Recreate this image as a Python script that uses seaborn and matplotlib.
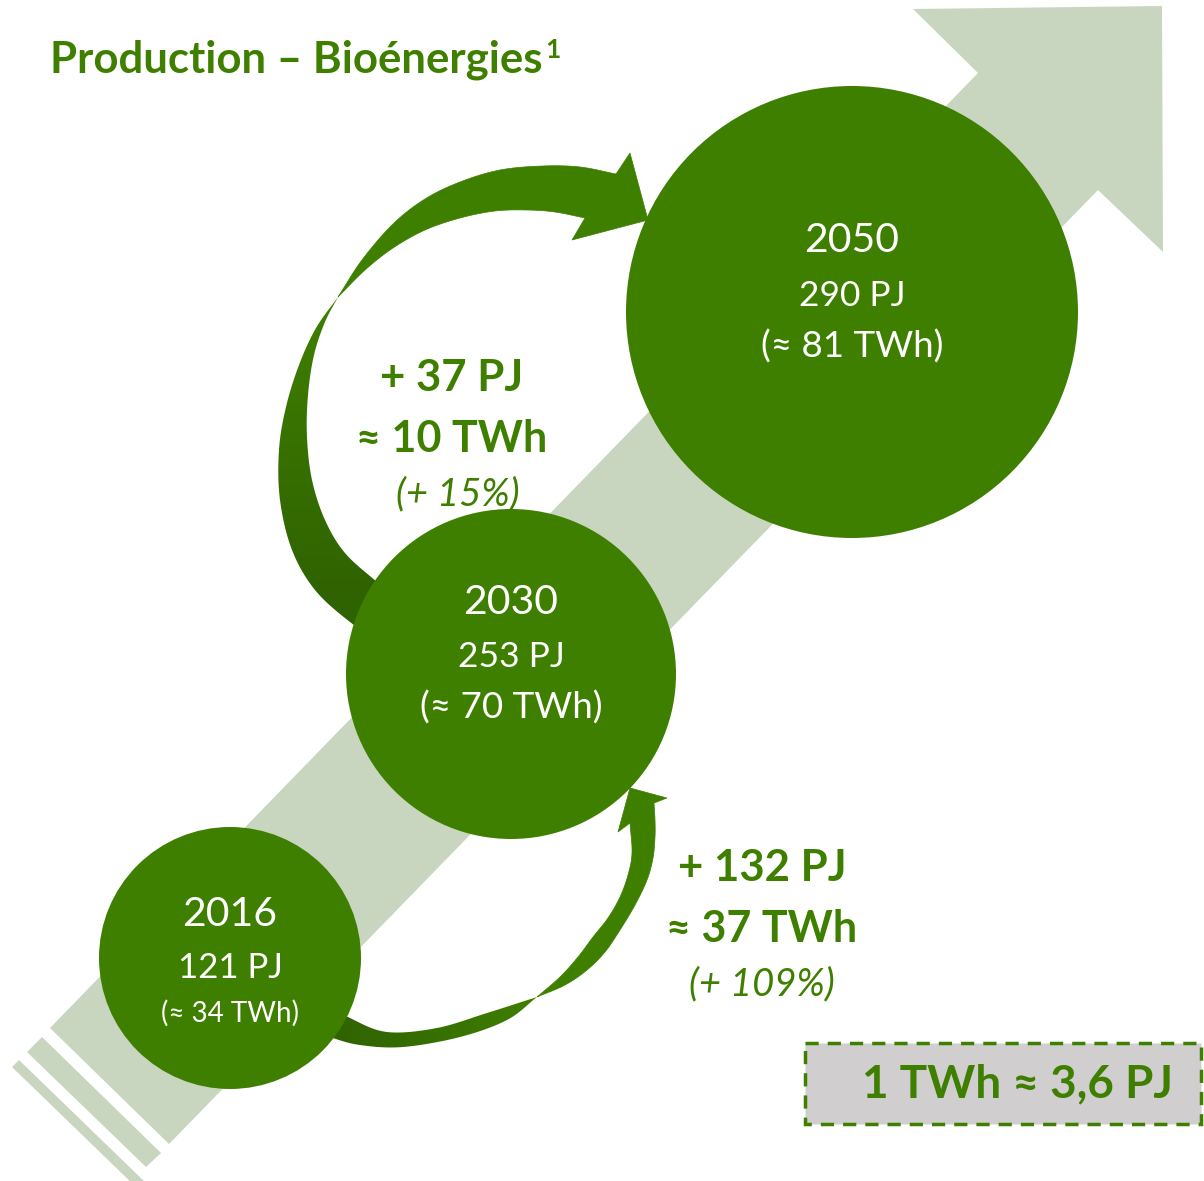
import numpy as np
import pandas as pd
import matplotlib
matplotlib.use("Agg")
import matplotlib.pyplot as plt
import seaborn as sns
from matplotlib.patches import Polygon, Rectangle

# ---------------- data ----------------
years = ["2016", "2030", "2050"]
prod_pj = [121, 253, 290]
prod_twh = [34, 70, 81]
delta_pj = [132, 37]          # 2016->2030, 2030->2050
delta_twh = [37, 10]
delta_pct = [109, 15]
title_text = "Production – Bioénergies"
title_note = "1"
conversion_text = "1 TWh ≈ 3,6 PJ"

# ---------------- layout (pixels) ----------------
circle_x = [230, 511, 852]
circle_y = [958, 674, 312]
circle_r = [131, 165, 226]

GREEN = "#3F7F00"
DARK = "#2F6200"
LIGHT = "#C9D6BF"
BOXGRAY = "#D0CECE"

sns.set_theme(style="white")
plt.rcParams["font.family"] = ["Lato", "DejaVu Sans"]

W, H = 1204, 1181
fig = plt.figure(figsize=(W / 100, H / 100), dpi=100)
ax = fig.add_axes([0, 0, 1, 1])
ax.set_xlim(0, W)
ax.set_ylim(H, 0)
ax.axis("off")


def cr(pts, n=14):
    P = np.array(pts, float)
    P = np.vstack([2 * P[0] - P[1], P, 2 * P[-1] - P[-2]])
    out = []
    t = np.linspace(0, 1, n, endpoint=False)[:, None]
    for i in range(1, len(P) - 2):
        p0, p1, p2, p3 = P[i - 1], P[i], P[i + 1], P[i + 2]
        out.append(0.5 * ((2 * p1) + (-p0 + p2) * t + (2 * p0 - 5 * p1 + 4 * p2 - p3) * t ** 2
                          + (-p0 + 3 * p1 - 3 * p2 + p3) * t ** 3))
    out.append(P[-2][None])
    return np.vstack(out)


# ---------------- big light arrow ----------------
big = [(50, 1028), (978, 73), (913, 9), (1162, 6), (1163, 252), (1098, 190), (169, 1144)]
ax.add_patch(Polygon(big, closed=True, fc=LIGHT, ec="none", zorder=1))
ax.add_patch(Polygon([(42, 1037), (161, 1153), (146, 1167), (27, 1052)], closed=True,
                     fc=LIGHT, ec="none", zorder=1))
ax.add_patch(Polygon([(19, 1060), (145, 1182), (138, 1189), (12, 1067)], closed=True,
                     fc=LIGHT, ec="none", zorder=1))


def gradient_fill(poly_pts, c_from, c_to, p_from, p_to, z):
    poly = Polygon(poly_pts, closed=True, fc="none", ec="none")
    ax.add_patch(poly)
    pts = np.array(poly_pts)
    x0, y0 = pts.min(axis=0) - 2
    x1, y1 = pts.max(axis=0) + 2
    nx, ny = int(x1 - x0) + 1, int(y1 - y0) + 1
    xs = np.linspace(x0, x1, nx)
    ys = np.linspace(y0, y1, ny)
    X, Y = np.meshgrid(xs, ys)
    d = np.array(p_to, float) - np.array(p_from, float)
    tt = ((X - p_from[0]) * d[0] + (Y - p_from[1]) * d[1]) / (d @ d)
    tt = np.clip(tt, 0, 1)[..., None]
    ca = np.array(matplotlib.colors.to_rgb(c_from))
    cb = np.array(matplotlib.colors.to_rgb(c_to))
    img = ca * (1 - tt) + cb * tt
    im = ax.imshow(img, extent=(x0, x1, y1, y0), origin="upper", aspect="auto",
                   interpolation="bilinear", zorder=z)
    im.set_clip_path(poly)


# ---------------- upper curved arrow (2030 -> 2050) ----------------
ua_out_up = [(338, 297), (362, 260), (393, 224), (425, 199), (460, 182), (500, 170),
             (543, 166), (580, 167), (616, 174)]
ua_head = [(630, 153), (648, 220), (572, 240)]
ua_in_up = [(585, 218), (555, 212), (527, 210), (495, 211), (460, 218), (425, 230),
            (393, 248), (365, 270), (338, 297)]
upper_band = list(cr(ua_out_up)) + ua_head + list(cr(ua_in_up))
ax.add_patch(Polygon(upper_band, closed=True, fc=GREEN, ec=GREEN, lw=0.5, zorder=3))

ua_out_low = [(338, 297), (316, 328), (299, 365), (286, 407), (279, 450), (280, 500),
              (292, 550), (315, 590), (350, 622), (385, 645)]
ua_in_low = [(338, 297), (325, 322), (314, 355), (308, 395), (307, 437), (312, 480),
             (325, 520), (345, 553), (377, 582), (405, 605)]
lower_band = list(cr(ua_out_low)) + list(cr(ua_in_low))[::-1]
gradient_fill(lower_band, DARK, GREEN, (330, 600), (335, 300), 3)

# ---------------- lower curved arrow (2016 -> 2030) ----------------
la_out_up = [(537, 997), (565, 985), (587, 970), (605, 952), (620, 930), (635, 905),
             (647, 880), (653, 858), (655, 837), (655, 820), (654, 803)]
la_head = [(667, 798), (630, 788), (618, 832)]
la_in_up = [(630, 823), (632, 853), (628, 875), (620, 897), (608, 918), (593, 937),
            (578, 957), (560, 977), (537, 997)]
la_band = list(cr(la_out_up)) + la_head + list(cr(la_in_up))
ax.add_patch(Polygon(la_band, closed=True, fc=GREEN, ec=GREEN, lw=0.5, zorder=3))

la_out_low = [(537, 997), (507, 1020), (460, 1037), (403, 1047), (360, 1045), (330, 1037),
              (300, 1025)]
la_in_low = [(537, 997), (487, 1013), (437, 1028), (387, 1032), (350, 1018), (320, 1000)]
la_low = list(cr(la_out_low)) + list(cr(la_in_low))[::-1]
gradient_fill(la_low, DARK, GREEN, (330, 1030), (540, 1000), 3)

# ---------------- circles (seaborn scatter, sizes in pt^2) ----------------
df = pd.DataFrame({"year": years, "x": circle_x, "y": circle_y, "r": circle_r})
sizes = (2 * df["r"].to_numpy() * 72 / 100) ** 2
sns.scatterplot(data=df, x="x", y="y", s=sizes, color=GREEN, linewidth=0,
                ax=ax, zorder=5, legend=False)
ax.set_xlim(0, W)
ax.set_ylim(H, 0)
ax.axis("off")

# circle texts
line_dy = [(-43, 10, 55), (-72, -17, 34), (-71, -16, 35)]
val_sizes = [(29.5, 25, 20), (29.5, 25.5, 26.5), (29.5, 25.5, 26.5)]
for i in range(3):
    dy = line_dy[i]
    fs = val_sizes[i]
    ax.text(circle_x[i], circle_y[i] + dy[0], years[i], color="white", fontsize=fs[0],
            ha="center", va="center", zorder=6)
    ax.text(circle_x[i], circle_y[i] + dy[1], f"{prod_pj[i]} PJ", color="white",
            fontsize=fs[1], ha="center", va="center", zorder=6)
    ax.text(circle_x[i], circle_y[i] + dy[2], f"(≈ {prod_twh[i]} TWh)", color="white",
            fontsize=fs[2], ha="center", va="center", zorder=6)

# delta labels
delta_pos = [(762, 868), (452, 378)]
for i in range(2):
    x, y = delta_pos[i]
    ax.text(x, y, f"+ {delta_pj[i]} PJ", color=GREEN, fontsize=31.5, fontweight="bold",
            ha="center", va="center", zorder=6)
    ax.text(x, y + 61, f"≈ {delta_twh[i]} TWh", color=GREEN, fontsize=31, fontweight="bold",
            ha="center", va="center", zorder=6)
    ax.text(x + (0 if i == 0 else 6), y + 116, f"(+ {delta_pct[i]}%)", color=GREEN,
            fontsize=27.5, fontstyle="italic", ha="center", va="center", zorder=6)

# title
t = ax.text(50, 72, title_text, color=GREEN, fontsize=31.5, fontweight="bold",
            ha="left", va="baseline", zorder=6)
fig.canvas.draw()
bb = t.get_window_extent(renderer=fig.canvas.get_renderer())
x_end = ax.transData.inverted().transform((bb.x1, bb.y0))[0]
ax.text(x_end + 3, 58, title_note, color=GREEN, fontsize=19, fontweight="bold",
        ha="left", va="baseline", zorder=6)

# conversion box
ax.add_patch(Rectangle((805, 1043), 396, 81, fc=BOXGRAY, ec=GREEN, lw=2.5,
                       ls=(0, (3.8, 2.6)), zorder=4))
ax.text(1018, 1084, conversion_text, color=GREEN, fontsize=33, fontweight="bold",
        ha="center", va="center", zorder=6)

fig.savefig("out.png", dpi=100, facecolor="white")
